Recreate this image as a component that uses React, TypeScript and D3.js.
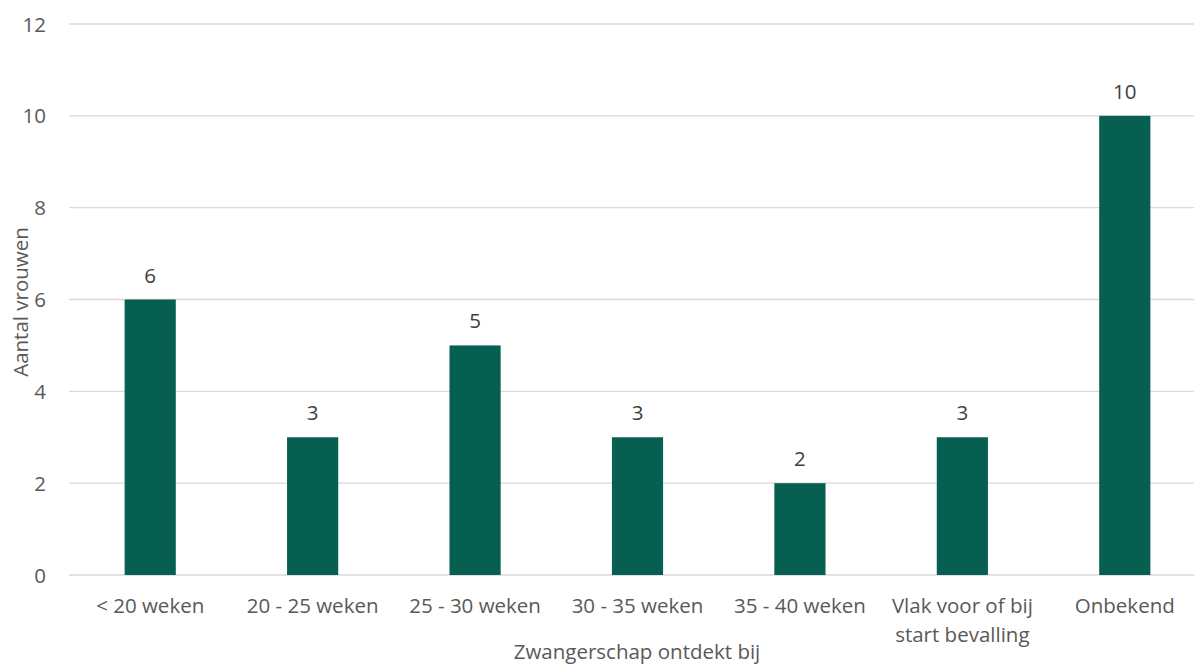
import React from "react";
import * as d3 from "d3";

const categories: string[][] = [
  ["< 20 weken"],
  ["20 - 25 weken"],
  ["25 - 30 weken"],
  ["30 - 35 weken"],
  ["35 - 40 weken"],
  ["Vlak voor of bij", "start bevalling"],
  ["Onbekend"],
];
const values: number[] = [6, 3, 5, 3, 2, 3, 10];
const yTicks: number[] = [0, 2, 4, 6, 8, 10, 12];
const yTitle = "Aantal vrouwen";
const xTitle = "Zwangerschap ontdekt bij";

const W = 1194;
const H = 664;
const FONT = "'Open Sans', sans-serif";
const FS = 20.5;
const TEXT = "#595959";
const BAR = "#075f52";
const GRID = "#d9d9d9";

export default function App() {
  const keys = categories.map((c) => c.join(" "));
  const x = d3.scaleBand<string>().domain(keys).range([69, 1206]).paddingInner(0).paddingOuter(0);
  const y = d3.scaleLinear().domain([0, 12]).range([575, 24]);
  const barW = x.bandwidth() * 0.315;

  return (
    <div style={{ position: "absolute", left: 0, top: 0 }}>
      <svg width={W} height={H} style={{ display: "block", background: "#fff" }} fontFamily={FONT}>
        {yTicks.map((t) => (
          <g key={t}>
            <line x1={69} x2={1206} y1={y(t)} y2={y(t)} stroke={GRID} strokeWidth={1.3} />
            <text x={46} y={y(t) + 7.5} textAnchor="end" fontSize={FS} fill={TEXT}>
              {t}
            </text>
          </g>
        ))}
        {values.map((v, i) => {
          const cx = (x(keys[i]) as number) + x.bandwidth() / 2;
          return (
            <g key={keys[i]}>
              <rect x={cx - barW / 2} y={y(v)} width={barW} height={y(0) - y(v)} fill={BAR} />
              <text x={cx} y={y(v) - 17} textAnchor="middle" fontSize={FS} fill="#404040">
                {v}
              </text>
              {categories[i].map((line, j) => (
                <text key={j} x={cx} y={613 + j * 29} textAnchor="middle" fontSize={FS} fill={TEXT}>
                  {line}
                </text>
              ))}
            </g>
          );
        })}
        <text
          transform={`translate(28,302) rotate(-90)`}
          textAnchor="middle"
          fontSize={FS}
          fill={TEXT}
        >
          {yTitle}
        </text>
        <text x={637} y={659} textAnchor="middle" fontSize={FS} fill={TEXT}>
          {xTitle}
        </text>
      </svg>
    </div>
  );
}
